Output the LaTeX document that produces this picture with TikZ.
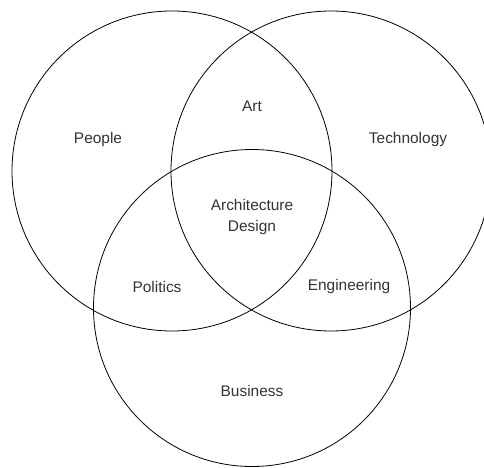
\documentclass[tikz,border=0pt]{standalone}
\usepackage{fontspec}
\setmainfont{Liberation Sans}
\begin{document}
\begin{tikzpicture}[x=1bp,y=-1bp,
  setc/.style={draw=black,line width=0.8bp},
  lbl/.style={font=\fontsize{15.5}{21}\selectfont,text=black!80,align=center,inner sep=0pt}]
\useasboundingbox (0,0) rectangle (484,468);
\draw[setc] (172,171) circle[radius=160];
\draw[setc] (331,171) circle[radius=160];
\draw[setc] (252,308) circle[radius=158.5];
\node[lbl] (people) at (98,140) {People};
\node[lbl] (art) at (252,106) {Art};
\node[lbl] (tech) at (408,140) {Technology};
\node[lbl] (arch) at (252,217) {Architecture\\Design};
\node[lbl] (pol) at (157,287) {Politics};
\node[lbl] (eng) at (349,287) {Engineering};
\node[lbl] (bus) at (252,391) {Business};
\end{tikzpicture}
\end{document}
